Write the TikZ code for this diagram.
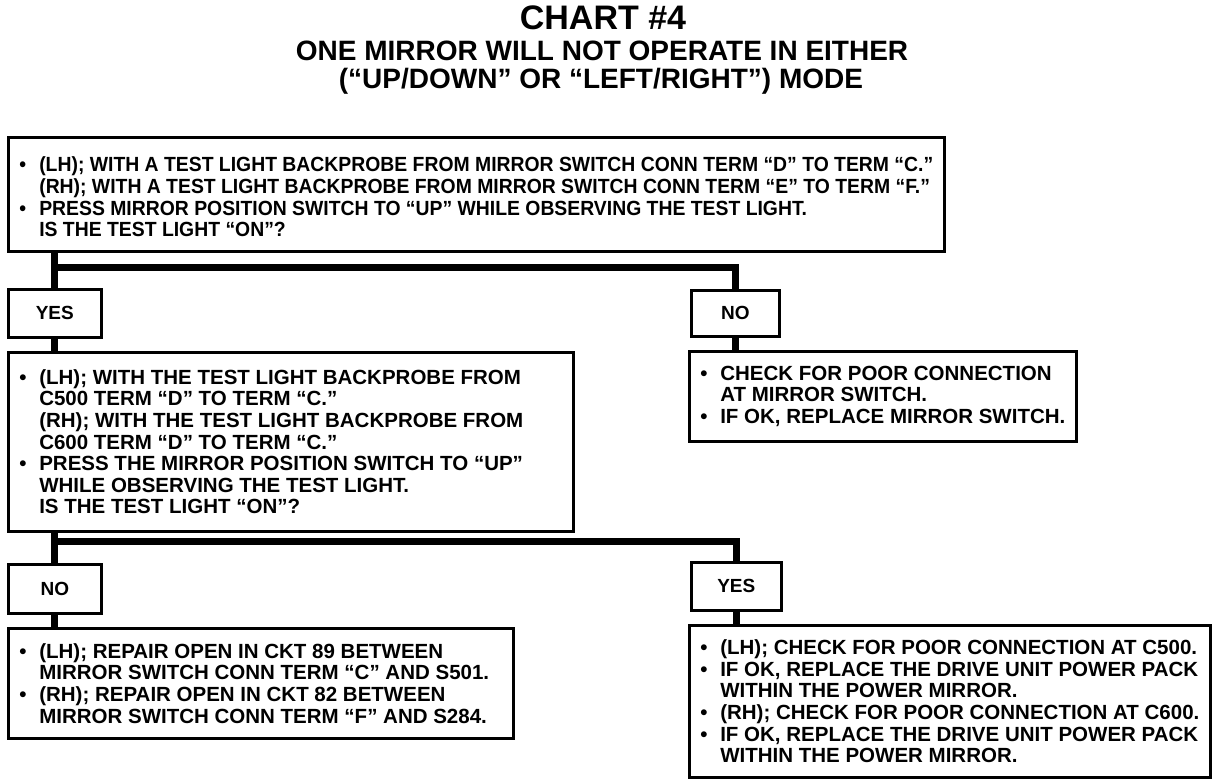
\documentclass[tikz,border=0pt]{standalone}
\usepackage{fontspec}
\setmainfont{Liberation Sans}
\newfontfamily\narrowfont[FakeStretch=0.945]{Liberation Sans}
\newcommand\bul{\makebox[20pt][l]{\textbullet}}
\newcommand\ind{\hspace*{20pt}}
\tikzset{
  box/.style={draw, line width=2.6pt, anchor=north west, align=flush left,
    inner xsep=11pt, inner ysep=0pt,
    font=\bfseries\fontsize{20.5}{21.6}\selectfont},
  lbl/.style={draw, line width=2.6pt, anchor=north west, align=center,
    inner sep=0pt, font=\bfseries\fontsize{19}{21}\selectfont},
  conn/.style={line width=7pt},
  ttl/.style={font=\bfseries\fontsize{28}{30}\selectfont, inner sep=0pt},
}
\begin{document}
\begin{tikzpicture}[x=1pt,y=-1pt]
\useasboundingbox (0,0) rectangle (1232,784);
% title
\node[ttl, font=\bfseries\fontsize{34}{36}\selectfont] (t1) at (603,18) {CHART \#4};
\node[ttl] (t2) at (602,51) {ONE MIRROR WILL NOT OPERATE IN EITHER};
\node[ttl] (t3) at (601,81) {(“UP/DOWN” OR “LEFT/RIGHT”) MODE};
% boxes
\node[box, minimum height=114pt, font=\narrowfont\bfseries\fontsize{20.5}{21.6}\selectfont] (q1) at (7,136) {%
\rule{0pt}{20pt}\bul(LH); WITH A TEST LIGHT BACKPROBE FROM MIRROR SWITCH CONN TERM “D” TO TERM “C.”\\
\ind(RH); WITH A TEST LIGHT BACKPROBE FROM MIRROR SWITCH CONN TERM “E” TO TERM “F.”\\
\bul PRESS MIRROR POSITION SWITCH TO “UP” WHILE OBSERVING THE TEST LIGHT.\\
\ind IS THE TEST LIGHT “ON”?};
\node[lbl, minimum width=93pt, minimum height=48pt] (yes1) at (7,288) {YES};
\node[lbl, minimum width=88pt, minimum height=46pt] (no1) at (690,289) {NO};
\node[box, minimum height=179pt, text width=543pt] (q2) at (7,351) {%
\bul(LH); WITH THE TEST LIGHT BACKPROBE FROM\\
\ind C500 TERM “D” TO TERM “C.”\\
\ind(RH); WITH THE TEST LIGHT BACKPROBE FROM\\
\ind C600 TERM “D” TO TERM “C.”\\
\bul PRESS THE MIRROR POSITION SWITCH TO “UP”\\
\ind WHILE OBSERVING THE TEST LIGHT.\\
\ind IS THE TEST LIGHT “ON”?};
\node[box, minimum height=90pt] (chk) at (688,350) {%
\bul CHECK FOR POOR CONNECTION\\
\ind AT MIRROR SWITCH.\\
\bul IF OK, REPLACE MIRROR SWITCH.};
\node[lbl, minimum width=93pt, minimum height=49pt] (no2) at (7,563) {NO};
\node[lbl, minimum width=90pt, minimum height=48pt] (yes2) at (690,561) {YES};
\node[box, minimum height=110pt, text width=483pt] (rep) at (7,627) {%
\bul(LH); REPAIR OPEN IN CKT 89 BETWEEN\\
\ind MIRROR SWITCH CONN TERM “C” AND S501.\\
\bul(RH); REPAIR OPEN IN CKT 82 BETWEEN\\
\ind MIRROR SWITCH CONN TERM “F” AND S284.};
\node[box, minimum height=152pt] (fin) at (688,624) {%
\bul(LH); CHECK FOR POOR CONNECTION AT C500.\\
\bul IF OK, REPLACE THE DRIVE UNIT POWER PACK\\
\ind WITHIN THE POWER MIRROR.\\
\bul(RH); CHECK FOR POOR CONNECTION AT C600.\\
\bul IF OK, REPLACE THE DRIVE UNIT POWER PACK\\
\ind WITHIN THE POWER MIRROR.};
% connectors
\coordinate (b1) at (0,267);
\coordinate (b2) at (0,541);
\coordinate (j1) at (yes1.north |- b1);
\coordinate (j2) at (no2.north |- b2);
\draw[conn] (yes1.north |- q1.south) -- (yes1.north);
\draw[conn] (j1) -| (no1.north);
\draw[conn] (yes1.south) -- (yes1.south |- q2.north);
\draw[conn] (no1.south) -- (no1.south |- chk.north);
\draw[conn] (no2.north |- q2.south) -- (no2.north);
\draw[conn] (j2) -| (yes2.north);
\draw[conn] (no2.south) -- (no2.south |- rep.north);
\draw[conn] (yes2.south) -- (yes2.south |- fin.north);
\end{tikzpicture}
\end{document}
